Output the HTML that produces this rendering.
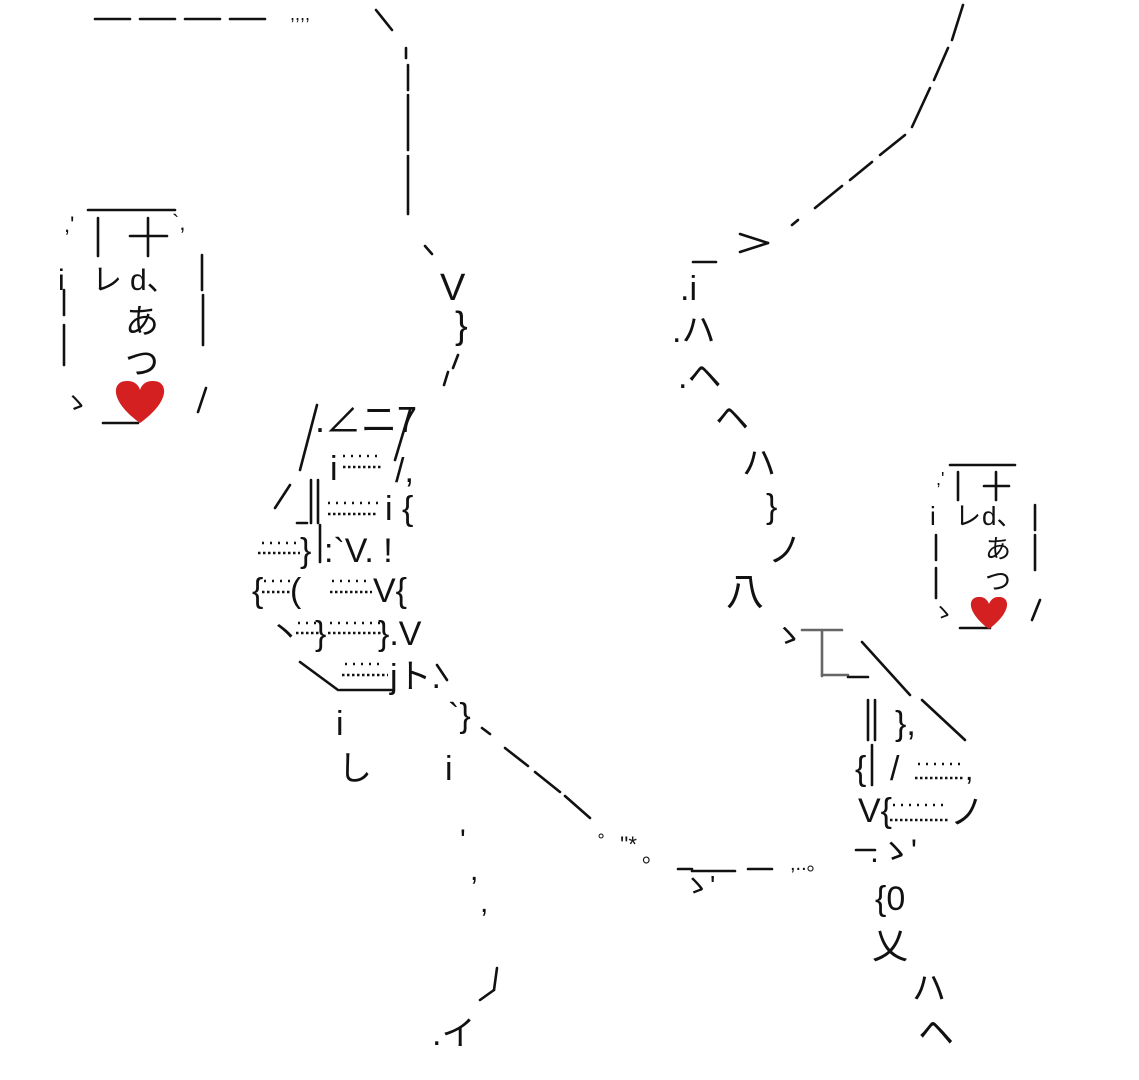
<!DOCTYPE html>
<html><head><meta charset="utf-8"><style>
html,body{margin:0;padding:0;background:#fff;width:1139px;height:1080px;overflow:hidden}
svg{display:block}
text{font-family:"Liberation Sans","Noto Sans CJK JP",sans-serif;fill:#111}
</style></head><body>
<svg width="1139" height="1080" viewBox="0 0 1139 1080" xmlns="http://www.w3.org/2000/svg">
<g stroke="#111" stroke-width="2.6" stroke-linecap="round" fill="none">
<line x1="95" y1="19" x2="130" y2="19"/><line x1="140" y1="19" x2="175" y2="19"/><line x1="185" y1="19" x2="220" y2="19"/><line x1="230" y1="19" x2="265" y2="19"/>
<line x1="376" y1="10" x2="392" y2="30"/>
<line x1="406" y1="48" x2="406" y2="58"/>
<line x1="408" y1="65" x2="408" y2="90"/><line x1="408" y1="95" x2="408" y2="150"/><line x1="408" y1="156" x2="408" y2="214"/>
<line x1="425" y1="246" x2="432" y2="254"/>
<line x1="458" y1="355" x2="453" y2="368"/><line x1="448" y1="372" x2="444" y2="385"/>
<line x1="963" y1="5" x2="952" y2="40"/><line x1="948" y1="48" x2="934" y2="80"/><line x1="930" y1="88" x2="912" y2="127"/>
<line x1="905" y1="135" x2="880" y2="155"/><line x1="872" y1="162" x2="850" y2="180"/><line x1="842" y1="186" x2="815" y2="208"/><line x1="798" y1="220" x2="792" y2="225"/>
<line x1="740" y1="234" x2="768" y2="243"/><line x1="768" y1="243" x2="740" y2="252"/>
<line x1="693" y1="262" x2="716" y2="262"/>
<!-- left figure -->
<line x1="410" y1="410" x2="395" y2="460"/>
<line x1="317" y1="405" x2="300" y2="470"/>
<line x1="290" y1="485" x2="275" y2="508"/>
<line x1="297" y1="523" x2="307" y2="523"/>
<line x1="311" y1="480" x2="311" y2="523"/><line x1="318" y1="480" x2="318" y2="523"/>
<line x1="320" y1="525" x2="320" y2="562"/>
<line x1="300" y1="662" x2="338" y2="690"/>
<line x1="340" y1="690" x2="392" y2="690"/>
<line x1="437" y1="665" x2="447" y2="680"/>
<line x1="482" y1="728" x2="490" y2="734"/><line x1="505" y1="748" x2="528" y2="766"/><line x1="535" y1="772" x2="560" y2="792"/><line x1="565" y1="796" x2="590" y2="818"/>
<line x1="678" y1="869" x2="692" y2="869"/><line x1="692" y1="871" x2="735" y2="871"/><line x1="748" y1="869" x2="772" y2="869"/>
<!-- right figure -->
<line x1="822" y1="630" x2="822" y2="676" stroke="#666"/><line x1="802" y1="630" x2="842" y2="630" stroke="#666"/><line x1="822" y1="675" x2="848" y2="675" stroke="#666"/><line x1="848" y1="677" x2="868" y2="677"/>
<line x1="862" y1="642" x2="910" y2="695"/><line x1="922" y1="700" x2="965" y2="740"/>
<line x1="868" y1="700" x2="868" y2="740"/><line x1="875" y1="700" x2="875" y2="740"/>
<line x1="872" y1="745" x2="872" y2="785"/>
<line x1="856" y1="850" x2="875" y2="850"/>
<line x1="497" y1="968" x2="494" y2="990"/><line x1="494" y1="990" x2="480" y2="1000"/>
<!-- bubble left -->
<line x1="88" y1="210" x2="175" y2="210"/>
<line x1="98" y1="218" x2="98" y2="256"/><line x1="148" y1="218" x2="148" y2="256"/><line x1="130" y1="236" x2="167" y2="236"/>
<line x1="64" y1="290" x2="64" y2="315"/><line x1="64" y1="325" x2="64" y2="365"/>
<line x1="202" y1="255" x2="202" y2="290"/><line x1="203" y1="295" x2="203" y2="345"/>
<line x1="206" y1="388" x2="198" y2="412"/>
<line x1="103" y1="423" x2="138" y2="423"/>
<!-- bubble right -->
<line x1="950" y1="465" x2="1015" y2="465"/>
<line x1="958" y1="472" x2="958" y2="500"/><line x1="996" y1="472" x2="996" y2="500"/><line x1="984" y1="486" x2="1009" y2="486"/>
<line x1="936" y1="535" x2="936" y2="560"/><line x1="936" y1="568" x2="936" y2="598"/>
<line x1="1035" y1="505" x2="1035" y2="530"/><line x1="1035" y1="535" x2="1035" y2="570"/>
<line x1="1040" y1="600" x2="1032" y2="620"/>
<line x1="960" y1="628" x2="990" y2="628"/>
</g>
<!-- dotted fills -->
<g stroke="#111" stroke-width="2.4" fill="none">
<g stroke-dasharray="2 6">
<line x1="343" y1="456" x2="382" y2="456"/><line x1="328" y1="503" x2="378" y2="503"/><line x1="262" y1="543" x2="300" y2="543"/>
<line x1="264" y1="581" x2="290" y2="581"/><line x1="332" y1="581" x2="372" y2="581"/><line x1="298" y1="623" x2="322" y2="623"/><line x1="330" y1="623" x2="380" y2="623"/>
<line x1="345" y1="664" x2="385" y2="664"/><line x1="918" y1="764" x2="965" y2="764"/><line x1="893" y1="805" x2="945" y2="805"/>
</g>
<g stroke-dasharray="2.5 2.5">
<line x1="343" y1="467" x2="382" y2="467"/><line x1="328" y1="514" x2="378" y2="514"/><line x1="258" y1="553" x2="300" y2="553"/>
<line x1="262" y1="592" x2="290" y2="592"/><line x1="330" y1="592" x2="372" y2="592"/><line x1="296" y1="633" x2="322" y2="633"/><line x1="328" y1="633" x2="385" y2="633"/>
<line x1="342" y1="675" x2="388" y2="675"/><line x1="915" y1="778" x2="963" y2="778"/><line x1="890" y1="820" x2="950" y2="820"/>
</g>
</g>
<g font-size="38">
<text x="290" y="20" font-size="18">,,,,</text>
<text x="440" y="300">V</text>
<text x="455" y="338">}</text>
<text x="315" y="432" font-size="36">.∠ニ7</text>
<text x="330" y="480" font-size="34">i</text>
<text x="395" y="482" font-size="34">/,</text>
<text x="385" y="520" font-size="34">i {</text>
<text x="300" y="562" font-size="34">}</text><text x="324" y="562" font-size="34">:`V. !</text>
<text x="252" y="602" font-size="34">{</text><text x="290" y="602" font-size="34">(</text><text x="373" y="602" font-size="34">V{</text>
<text x="268" y="645" font-size="34">丶</text><text x="315" y="645" font-size="34">}</text><text x="378" y="645" font-size="34">}.V</text>
<text x="390" y="688" font-size="34">jト.</text>
<text x="448" y="727" font-size="34">`}</text>
<text x="336" y="735" font-size="34">i</text>
<text x="338" y="780" font-size="34">し</text>
<text x="445" y="780" font-size="34">i</text>
<text x="460" y="850" font-size="30">'</text><text x="470" y="880" font-size="30">,</text><text x="480" y="912" font-size="30">,</text>
<text x="432" y="1045" font-size="34">.イ</text>
<text x="680" y="300" font-size="34">.i</text>
<text x="672" y="342" font-size="34">.ハ</text>
<text x="678" y="388" font-size="34">.ヘ</text>
<text x="715" y="430" font-size="34">ヘ</text>
<text x="742" y="475" font-size="34">ハ</text>
<text x="766" y="518" font-size="34">}</text>
<text x="768" y="562" font-size="34">ノ</text>
<text x="726" y="605" font-size="38">八</text>
<text x="773" y="646" font-size="30">ゝ</text>
<text x="895" y="735" font-size="34">},</text>
<text x="855" y="780" font-size="34">{</text><text x="890" y="780" font-size="34">/</text><text x="965" y="780" font-size="30">,</text>
<text x="858" y="822" font-size="34">V{</text><text x="950" y="824" font-size="34">ノ</text>
<text x="870" y="862" font-size="32">.ゝ'</text>
<text x="875" y="910" font-size="34">{0</text>
<text x="872" y="958" font-size="36">乂</text>
<text x="912" y="1000" font-size="34">ハ</text>
<text x="918" y="1045" font-size="36">ヘ</text>
<text x="598" y="852" font-size="22">゜''*</text><text x="642" y="862" font-size="22">。</text>
<text x="682" y="895" font-size="28">ゝ'</text>
<text x="790" y="870" font-size="20">,..。</text>
<text x="64" y="232" font-size="22">,'</text><text x="172" y="230" font-size="22">`,</text>
<text x="58" y="290" font-size="30">i</text><text x="92" y="290" font-size="30">レ</text><text x="130" y="290" font-size="30">d、</text>
<text x="125" y="333" font-size="34">あ</text><text x="125" y="375" font-size="34">つ</text>
<text x="63" y="412" font-size="26">ゝ</text>
<text x="936" y="485" font-size="18">,'</text>
<text x="930" y="525" font-size="26">i</text><text x="955" y="525" font-size="26">レ</text><text x="982" y="525" font-size="26">d、</text>
<text x="985" y="558" font-size="26">あ</text><text x="985" y="590" font-size="26">つ</text>
<text x="932" y="620" font-size="22">ゝ</text>
</g>
<path d="M140,423 C108,400 112,380 128,381 C135,381 139,386 140,390 C141,386 145,381 152,381 C168,380 172,400 140,423 Z" fill="#d42020"/>
<path d="M989,629 C965,611 968,596 980,597 C985,597 988,601 989,604 C990,601 993,597 998,597 C1010,596 1013,611 989,629 Z" fill="#d42020"/>
</svg>
</body></html>
